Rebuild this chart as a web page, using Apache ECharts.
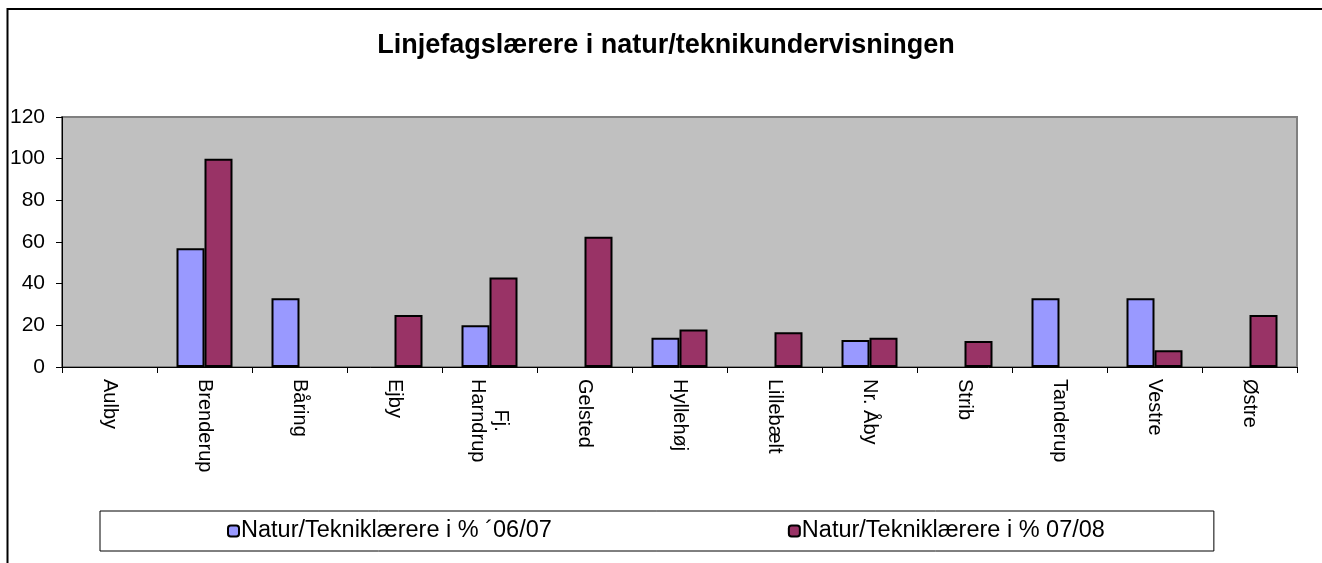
<!DOCTYPE html>
<html>
<head>
<meta charset="utf-8">
<script src="https://cdn.jsdelivr.net/npm/echarts@6/dist/echarts.min.js"></script>
<style>
  html, body { margin: 0; padding: 0; background: #fff; }
  #chart { width: 1322px; height: 563px; }
</style>
</head>
<body>
<div id="chart"></div>
<script>
var skoler = ['Aulby', 'Brenderup', 'Båring', 'Ejby', 'Fj.\nHarndrup', 'Gelsted', 'Hyllehøj',
  'Lillebælt', 'Nr. Åby', 'Strib', 'Tanderup', 'Vestre', 'Østre'];
var pct0607 = [null, 57, 33, null, 20, null, 14, null, 13, null, 33, 33, null];
var pct0708 = [null, 100, null, 25, 43, 62.5, 18, 16.7, 14, 12.5, null, 8, 25];
var yTicks = [0, 20, 40, 60, 80, 100, 120];

var chart = echarts.init(document.getElementById('chart'));

var font = 'Liberation Sans, Arial, sans-serif';

var option = {
  animation: false,
  textStyle: { fontFamily: font },
  graphic: [{
    type: 'rect',
    shape: { x: 7.5, y: 9, width: 1400, height: 700 },
    style: { fill: 'none', stroke: '#000', lineWidth: 2 },
    silent: true
  }],
  title: {
    text: 'Linjefagslærere i natur/teknikundervisningen',
    left: 666,
    textAlign: 'center',
    top: 32,
    padding: 0,
    textStyle: { fontFamily: font, fontSize: 27, fontWeight: 'bold', color: '#000' }
  },
  legend: {
    left: 100,
    top: 511,
    padding: [8, 109, 8, 127],
    itemGap: 236,
    itemWidth: 11,
    itemHeight: 11,
    borderColor: '#000',
    borderWidth: 1,
    textStyle: { fontFamily: font, fontSize: 23.5, color: '#000', padding: [0, 0, 0, -3] },
    data: ['Natur/Tekniklærere i % ´06/07', 'Natur/Tekniklærere i % 07/08']
  },
  grid: {
    left: 62, right: 25, top: 117, bottom: 196,
    show: true,
    backgroundColor: '#c0c0c0',
    borderColor: '#808080',
    borderWidth: 2
  },
  xAxis: {
    type: 'category',
    data: skoler,
    axisLine: { lineStyle: { color: '#000', width: 1 } },
    axisTick: { show: true, alignWithLabel: false, length: 6, lineStyle: { color: '#000' } },
    axisLabel: {
      interval: 0,
      rotate: -90,
      margin: 12,
      color: '#000',
      fontFamily: font,
      fontSize: 20,
      lineHeight: 23,
      formatter: function (v) {
        if (v.indexOf('\n') < 0) return v;
        return v.split('\n').map(function (s) { return '{c|' + s + '}'; }).join('\n');
      },
      rich: { c: { align: 'center', fontFamily: font, fontSize: 20, color: '#000', lineHeight: 23 } }
    }
  },
  yAxis: {
    type: 'value',
    min: 0,
    max: 120,
    interval: 20,
    axisLine: { show: true, lineStyle: { color: '#000' } },
    axisTick: { show: true, length: 6, lineStyle: { color: '#000' } },
    splitLine: { show: false },
    axisLabel: {
      color: '#000',
      fontFamily: font,
      fontSize: 21,
      margin: 17,
      formatter: function (v) { return yTicks.indexOf(v) >= 0 ? String(v) : ''; }
    }
  },
  series: [{
    name: 'Natur/Tekniklærere i % ´06/07',
    type: 'bar',
    data: pct0607,
    barWidth: 28,
    barGap: '0%',
    itemStyle: { color: '#9999ff', borderColor: '#000', borderWidth: 2 }
  }, {
    name: 'Natur/Tekniklærere i % 07/08',
    type: 'bar',
    data: pct0708,
    barWidth: 28,
    barGap: '0%',
    itemStyle: { color: '#993366', borderColor: '#000', borderWidth: 2 }
  }]
};

chart.setOption(option);
</script>
</body>
</html>
